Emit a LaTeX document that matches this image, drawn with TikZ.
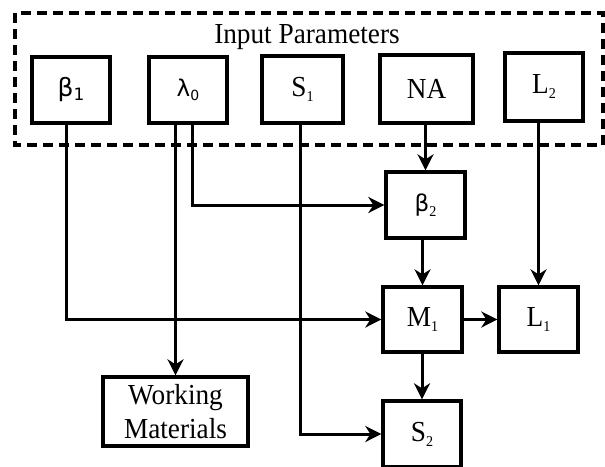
\documentclass[tikz,border=0pt]{standalone}
\usepackage{fontspec}
\setmainfont[FakeStretch=0.94]{Liberation Serif}
\newfontfamily\grk{DejaVu Sans}
\usetikzlibrary{arrows.meta}
\newcommand{\subs}[1]{\raisebox{-5pt}{\fontsize{15}{15}\selectfont #1}}
\newcommand{\subsans}[1]{\raisebox{-4pt}{\grk\fontsize{17}{17}\selectfont #1}}
\begin{document}
\begin{tikzpicture}[x=1pt,y=-1pt,
  box/.style={draw,line width=3.3pt,minimum width=79pt,minimum height=66pt,inner sep=0pt,
    font=\fontsize{29}{34}\selectfont,align=center},
  arr/.style={line width=3pt,-{Stealth[length=16pt,width=16pt,inset=5pt]}},
  grp/.style={line width=3.3pt,dash pattern=on 10pt off 6pt}]
\useasboundingbox (0,0) rectangle (605,466);
\draw[grp] (15,13) rectangle (603,145);
\node[font=\fontsize{29}{34}\selectfont] (title) at (307,37) {Input Parameters};
\node[box,minimum width=78pt] (b1) at (71,90) {{\grk\fontsize{25}{25}\selectfont β}\subsans{1}};
\node[box,minimum width=78pt] (l0) at (188,90) {{\grk\fontsize{23}{23}\selectfont λ}\subsans{\fontsize{14}{14}\selectfont 0}};
\node[box,minimum width=81pt,minimum height=67pt] (s1) at (302.5,89.5) {S\subs{1}};
\node[box,minimum width=93pt,minimum height=68pt] (na) at (426.5,89) {NA};
\node[box,minimum width=78pt,minimum height=68pt] (l2) at (544,87) {L\subs{2}};
\node[box] (b2) at (425.5,205) {{\grk\fontsize{23}{23}\selectfont β}\subs{2}};
\node[box,minimum height=65pt] (m1) at (422.5,319.5) {M\subs{1}};
\node[box,minimum height=65pt] (l1) at (538.5,319.5) {L\subs{1}};
\node[box,minimum width=145pt,minimum height=69pt] (wm) at (175.5,411.5) {Working\\Materials};
\node[box,minimum width=78pt,minimum height=66pt] (s2) at (422,434) {S\subs{2}};
% connectors
\draw[arr] ([xshift=-5pt]b1.south) |- (m1.west);
\draw[arr] (l0.south -| wm.north) -- (wm.north);
\draw[arr] ([xshift=4pt]l0.south) |- (b2.west);
\draw[arr] ([xshift=-2.5pt]s1.south) |- (s2.west);
\draw[arr] (na.south -| b2.north) -- (b2.north);
\draw[arr] (l2.south -| l1.north) -- (l1.north);
\draw[arr] (b2.south -| m1.north) -- (m1.north);
\draw[arr] (m1.east) -- (l1.west);
\draw[arr] (m1.south -| s2.north) -- (s2.north);
\end{tikzpicture}
\end{document}
